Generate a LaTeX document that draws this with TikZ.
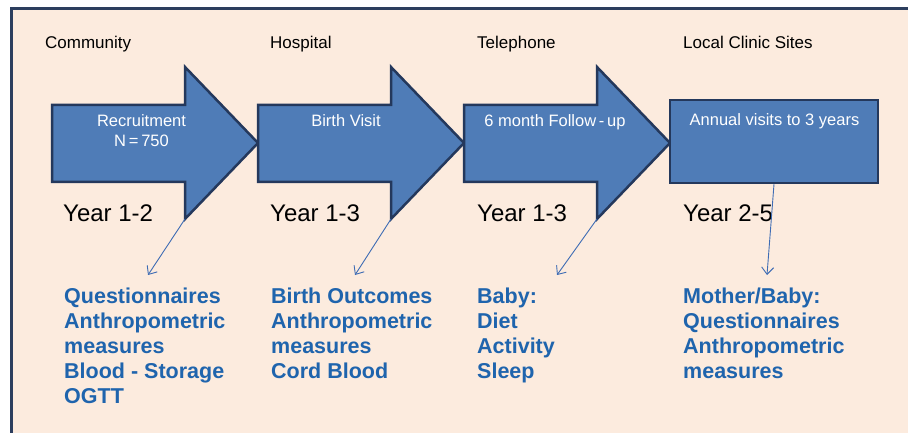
\documentclass[tikz,border=0pt]{standalone}
\usepackage{fontspec}
\setmainfont{Liberation Sans}
\usetikzlibrary{arrows.meta}
\definecolor{peach}{RGB}{252,235,222}
\definecolor{frameblue}{RGB}{44,62,94}
\definecolor{stagefill}{RGB}{79,124,183}
\definecolor{stageline}{RGB}{36,56,92}
\definecolor{itemblue}{RGB}{31,100,173}
\definecolor{linkblue}{RGB}{62,108,180}

\begin{document}
\begin{tikzpicture}[x=1pt,y=-1pt,
    stagearrow/.style={fill=stagefill,draw=stageline,line width=2.5pt,line join=miter},
    stagebox/.style={rectangle,fill=stagefill,draw=stageline,line width=2.5pt,
                     minimum width=208pt,minimum height=83pt,inner sep=0pt},
    place/.style={anchor=base west,inner sep=0pt,font=\fontsize{17}{20}\selectfont},
    inlabel/.style={anchor=north,align=center,inner sep=0pt,text=white,
                    font=\fontsize{16.5}{20}\selectfont},
    year/.style={anchor=base west,inner sep=0pt,font=\fontsize{24}{28}\selectfont},
    items/.style={anchor=north west,align=left,inner sep=0pt,text=itemblue,
                  font=\bfseries\fontsize{21.5}{25}\selectfont},
    link/.style={draw=linkblue,line width=0.9pt,-{Straight Barb[length=7pt,width=12pt]}}]
    \useasboundingbox (0,0) rectangle (908,433);
    % background and frame
    \fill[peach] (11,9) rectangle (908,433);
    \draw[frameblue,line width=3pt] (11,433) -- (11,9) -- (908,9);

    % stages
    \foreach \x/\n in {52/1,258/2,464/3}{
        \draw[stagearrow] (\x,105) -- ++(133,0) -- ++(0,-38) -- ++(73,76)
            -- ++(-73,76) -- ++(0,-37) -- ++(-133,0) -- cycle;
        \coordinate (h\n) at (\x+133,219);
    }
    \node[stagebox] (clinic) at (774,141.5) {};

    \node[inlabel] (recruit) at (141.5,114) {Recruitment\\N\,=\,750};
    \node[inlabel] (birth) at (346,114) {Birth Visit};
    \node[inlabel] (follow) at (555,114) {6 month Follow\,-\,up};
    \node[inlabel] (annual) at (774.5,113) {Annual visits to 3 years};

    % places
    \node[place] (community) at (45,48.5) {Community};
    \node[place] (hospital) at (270,48.5) {Hospital};
    \node[place] (telephone) at (477,48.5) {Telephone};
    \node[place] (local) at (683,48.5) {Local Clinic Sites};

    % years
    \node[year] (y1) at (63,222) {Year 1-2};
    \node[year] (y2) at (270,222) {Year 1-3};
    \node[year] (y3) at (477,222) {Year 1-3};
    \node[year] (y4) at (683,222) {Year 2-5};

    % measures
    \node[items] (m1) at (64,288) {Questionnaires\\Anthropometric\\measures\\Blood - Storage\\OGTT};
    \node[items] (m2) at (271,288) {Birth Outcomes\\Anthropometric\\measures\\Cord Blood};
    \node[items] (m3) at (477,288) {Baby:\\Diet\\Activity\\Sleep};
    \node[items] (m4) at (683,288) {Mother/Baby:\\Questionnaires\\Anthropometric\\measures};

    \coordinate (t1) at (148,275);
    \coordinate (t2) at (355,275);
    \coordinate (t3) at (557,275);
    \coordinate (t4) at (767,275);
    \draw[link] (h1) -- (t1);
    \draw[link] (h2) -- (t2);
    \draw[link] (h3) -- (t3);
    \draw[link] (clinic.south) -- (t4);
\end{tikzpicture}
\end{document}
